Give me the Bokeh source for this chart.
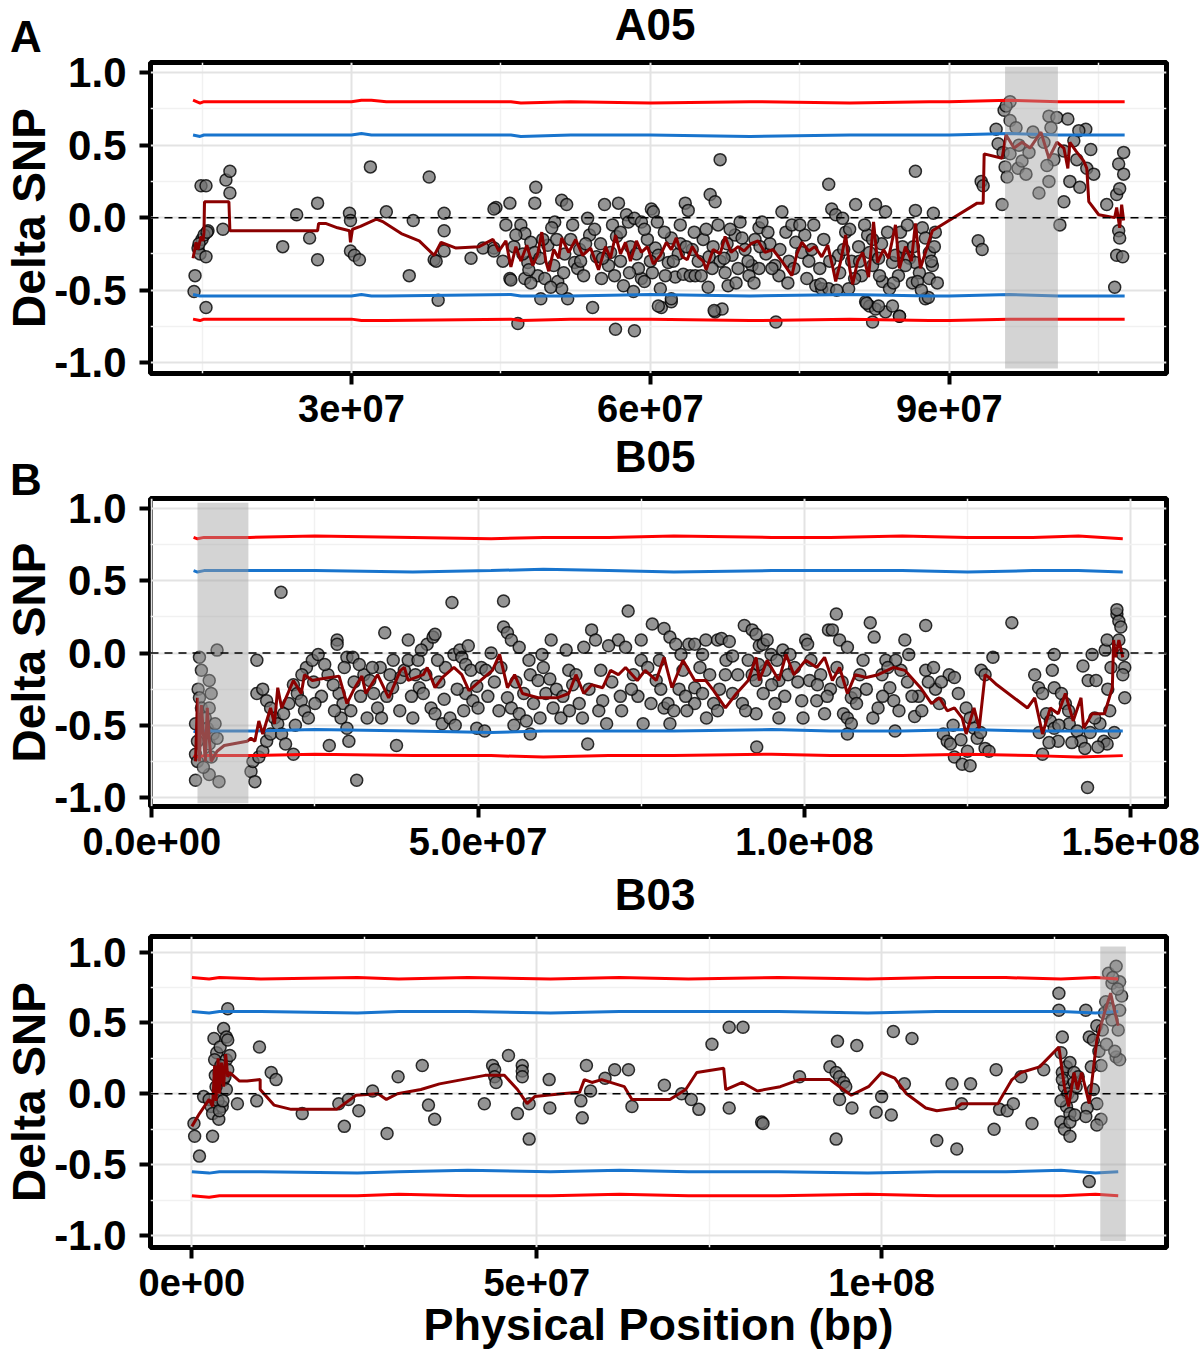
from bokeh.plotting import figure
from bokeh.models import FixedTicker, Span, Div
from bokeh.layouts import column
from bokeh.embed import file_html
from bokeh.resources import INLINE

FONT = "Liberation Sans"

# ---------------- data (positions in Mb) ----------------
Y_TICKS = [-1.0, -0.5, 0.0, 0.5, 1.0]
Y_TICK_LABELS = ["-1.0", "-0.5", "0.0", "0.5", "1.0"]
Y_MINOR = [-0.75, -0.25, 0.25, 0.75]

# ----- A05 -----
A_title = "A05"
A_letter = "A"
A_xticks = [30, 60, 90]
A_xtick_labels = ["3e+07", "6e+07", "9e+07"]
A_xminor = [15, 45, 75, 105]
A_roi = [95.6, 100.9]
A_points = [
    (14.3, -0.40), (14.2, -0.51), (15.4, -0.62), (14.9, 0.22), (15.4, 0.22), (14.6, -0.21), (14.8, -0.25),
    (15.4, -0.27), (15.6, -0.09), (15.0, -0.15), (15.2, -0.12), (14.7, -0.18), (15.5, -0.10),
    (17.4, 0.26), (17.8, 0.32), (17.8, 0.17), (17.1, -0.08), (23.1, -0.20), (24.5, 0.02), (25.8, -0.14),
    (26.6, 0.10), (26.6, -0.29), (29.8, 0.03), (29.9, -0.02), (29.9, -0.23), (30.3, -0.26), (30.8, -0.29),
    (31.9, 0.35), (33.5, 0.04), (35.8, -0.40), (36.2, -0.02), (37.8, 0.28), (38.3, -0.29), (38.5, -0.30),
    (39.3, 0.03), (39.3, -0.09), (39.3, -0.23), (38.7, -0.57), (42.0, -0.28), (43.2, -0.21), (44.3, -0.21),
    (44.5, 0.07), (44.3, 0.06), (45.9, 0.10), (44.3, -0.23), (48.5, 0.21), (48.4, 0.10), (45.9, -0.42),
    (46.0, -0.43), (46.7, -0.73), (47.0, -0.05), (47.4, -0.11), (48.0, -0.17), (48.4, -0.24), (48.7, -0.40),
    (49.0, -0.56), (49.4, -0.42), (47.4, -0.42), (47.7, -0.31), (50.4, -0.03), (50.1, -0.07), (51.1, 0.12),
    (51.6, 0.09), (50.7, -0.44), (51.1, -0.49), (51.7, -0.56), (52.4, -0.31), (52.7, -0.35), (53.7, -0.005),
    (53.9, -0.12), (54.2, -0.62), (55.4, 0.09), (56.8, 0.10), (55.1, -0.42), (55.8, -0.33), (56.4, -0.40),
    (57.3, -0.47), (57.6, 0.02), (57.8, -0.03), (58.4, -0.005), (59.1, -0.03), (58.3, -0.51), (58.4, -0.78),
    (59.1, -0.42), (59.4, -0.44), (60.1, 0.06), (60.3, 0.04), (61.0, -0.49), (61.1, -0.62), (62.1, -0.58),
    (62.5, -0.41), (60.5, -0.21), (61.8, -0.31), (62.1, -0.14), (63.5, 0.10), (63.8, 0.05), (63.3, -0.39),
    (64.0, -0.40), (64.5, -0.40), (65.8, -0.48), (66.0, 0.16), (66.5, 0.11), (67.0, 0.40), (66.5, -0.65),
    (67.2, -0.63), (67.5, -0.38), (67.8, -0.47), (68.2, -0.26), (68.5, -0.12), (69.2, -0.14), (70.2, -0.33),
    (70.9, -0.35), (70.9, -0.07), (71.2, -0.03), (72.5, -0.33), (73.2, 0.04), (73.6, -0.10), (74.2, -0.05),
    (74.6, -0.17), (75.2, -0.24), (76.6, -0.47), (77.2, -0.49), (77.9, -0.49), (77.9, 0.23), (78.2, 0.06),
    (78.6, 0.02), (79.3, -0.005), (79.6, -0.10), (79.9, -0.49), (80.6, 0.09), (82.6, 0.09), (83.6, 0.04),
    (82.0, -0.24), (82.3, -0.33), (81.6, -0.58), (82.0, -0.61), (82.6, -0.63), (83.6, -0.65), (84.3, -0.61),
    (85.0, -0.68), (82.3, -0.72), (83.3, -0.44), (84.0, -0.49), (84.3, -0.31), (84.6, -0.26), (86.0, -0.28),
    (86.6, -0.31), (86.6, 0.05), (86.6, 0.32), (87.3, -0.07), (87.6, -0.14), (88.0, -0.24), (87.6, -0.56),
    (88.3, -0.33), (88.0, -0.42),
    (45.2, -0.30), (46.3, -0.20), (47.8, -0.36), (48.9, -0.28), (49.7, -0.19), (50.3, -0.33), (51.4, -0.25),
    (52.0, -0.15), (52.9, -0.22), (53.3, -0.40), (54.6, -0.27), (55.0, -0.18), (56.0, -0.24), (56.6, -0.13),
    (57.0, -0.30), (58.0, -0.20), (58.8, -0.35), (59.7, -0.15), (60.2, -0.38), (60.8, -0.26), (61.4, -0.10),
    (62.8, -0.25), (63.0, -0.18), (64.2, -0.22), (64.8, -0.30), (65.3, -0.15), (65.9, -0.27), (66.3, -0.20),
    (67.0, -0.30), (67.7, -0.18), (68.8, -0.35), (69.5, -0.22), (69.9, -0.40), (70.5, -0.15), (71.6, -0.25),
    (72.0, -0.18), (72.9, -0.40), (73.9, -0.30), (75.5, -0.12), (75.9, -0.30), (76.2, -0.22), (77.0, -0.35),
    (78.9, -0.26), (79.0, -0.38), (80.2, -0.30), (80.9, -0.20), (81.2, -0.40), (81.8, -0.12), (82.9, -0.28),
    (83.2, -0.18), (84.9, -0.40), (85.3, -0.20), (85.6, -0.33), (86.3, -0.45), (87.0, -0.38), (88.5, -0.20),
    (88.6, -0.10), (88.4, 0.03), (56.5, -0.77), (60.8, -0.61), (62.1, -0.56), (66.4, -0.64), (72.6, -0.72),
    (77.1, -0.46), (81.7, -0.59), (82.9, -0.61), (85.0, -0.68), (87.9, -0.55), (86.8, -0.44),
    (45.5, -0.05), (46.5, -0.12), (47.2, -0.25), (48.0, -0.45), (49.2, -0.15), (50.0, -0.48), (50.6, -0.15),
    (51.3, -0.38), (52.2, -0.05), (53.0, -0.30), (53.5, -0.18), (54.4, -0.08), (55.2, -0.28), (56.2, -0.05),
    (57.0, -0.10), (57.9, -0.38), (58.6, -0.25), (59.4, -0.08), (60.0, -0.30), (60.7, -0.03), (61.5, -0.40),
    (62.3, -0.30), (63.0, -0.05), (63.6, -0.20), (64.4, -0.10), (65.1, -0.40), (65.6, -0.08), (66.2, -0.35),
    (66.8, -0.05), (67.4, -0.28), (68.0, -0.08), (68.6, -0.45), (69.0, -0.03), (69.8, -0.30), (70.4, -0.45),
    (71.0, -0.20), (71.8, -0.10), (72.2, -0.35), (73.0, -0.22), (73.8, -0.45), (74.4, -0.35), (75.0, -0.05),
    (75.7, -0.42), (76.4, -0.05), (77.4, -0.15), (78.0, -0.30), (78.7, -0.50), (79.4, -0.22), (80.0, -0.08),
    (80.5, -0.42), (81.0, -0.30), (81.5, -0.05), (82.3, -0.15), (83.0, -0.40), (83.8, -0.10), (84.4, -0.45),
    (85.1, -0.10), (85.8, -0.05), (86.4, -0.20), (87.2, -0.50), (88.2, -0.30), (88.8, -0.45),
    (93.2, 0.25), (93.4, 0.22), (92.9, -0.16), (93.3, -0.22), (95.3, 0.09), (94.9, 0.51), (94.7, 0.61),
    (95.5, 0.74), (96.1, 0.80), (95.7, 0.77), (96.1, 0.67), (96.7, 0.62), (95.4, 0.45), (95.6, 0.35),
    (95.8, 0.28), (96.1, 0.44), (96.9, 0.34), (97.3, 0.39), (97.7, 0.30), (98.4, 0.59), (99.0, 0.17),
    (100.0, 0.70), (100.8, 0.69), (100.0, 0.25), (100.2, 0.62), (101.1, -0.05), (101.5, 0.11), (101.9, 0.68),
    (101.5, 0.46), (102.1, 0.25), (102.5, 0.53), (103.1, 0.21), (103.7, 0.61), (104.2, 0.47), (103.8, 0.34),
    (105.8, 0.09), (106.8, 0.16), (107.0, 0.37), (107.5, 0.45), (107.5, 0.30), (107.1, 0.20), (107.0, -0.09),
    (107.1, -0.14), (106.8, -0.26), (107.4, -0.27), (106.6, -0.48), (97.0, 0.50), (98.0, 0.45), (99.5, 0.52),
    (100.5, 0.40), (102.8, 0.40), (104.5, 0.30), (103.0, 0.60), (99.8, 0.36),
]
A_smooth = [
    (14.1, -0.28), (14.4, -0.17), (14.6, -0.22), (14.9, -0.13), (15.1, -0.16), (15.2, -0.10), (15.25, 0.11),
    (17.7, 0.11), (17.8, -0.09), (26.6, -0.09), (26.7, -0.04), (27.4, -0.04), (28.6, -0.07), (29.8, -0.09),
    (29.9, -0.17), (30.1, -0.08), (30.9, -0.06), (32.5, -0.01), (33.2, -0.03), (35.0, -0.11), (36.8, -0.16),
    (38.3, -0.26), (39.0, -0.17), (40.5, -0.21), (42.8, -0.20), (44.2, -0.15), (44.8, -0.23), (45.5, -0.16),
    (46.0, -0.34), (46.5, -0.20), (47.0, -0.30), (47.6, -0.19), (48.2, -0.33), (48.7, -0.25), (49.1, -0.10),
    (49.5, -0.30), (49.8, -0.37), (50.3, -0.22), (50.8, -0.28), (51.1, -0.14), (51.8, -0.24), (52.5, -0.15),
    (53.2, -0.26), (54.0, -0.21), (54.8, -0.36), (55.5, -0.20), (56.0, -0.28), (56.5, -0.12), (57.0, -0.25),
    (57.5, -0.17), (58.0, -0.30), (58.6, -0.16), (59.1, -0.24), (59.7, -0.20), (60.3, -0.32), (61.0, -0.26),
    (61.6, -0.17), (62.1, -0.22), (62.6, -0.14), (63.2, -0.27), (63.7, -0.29), (64.2, -0.20), (64.8, -0.27),
    (65.3, -0.30), (65.6, -0.36), (66.3, -0.22), (67.0, -0.25), (67.5, -0.13), (68.1, -0.24), (68.8, -0.20),
    (69.4, -0.23), (70.1, -0.18), (70.8, -0.16), (71.5, -0.24), (72.3, -0.22), (73.3, -0.31), (74.2, -0.40),
    (74.7, -0.25), (75.2, -0.17), (75.9, -0.23), (76.5, -0.20), (77.2, -0.27), (77.8, -0.19), (78.3, -0.34),
    (78.6, -0.44), (79.1, -0.30), (79.6, -0.12), (80.0, -0.35), (80.3, -0.46), (80.8, -0.30), (81.3, -0.24),
    (81.9, -0.41), (82.4, -0.03), (82.8, -0.31), (83.4, -0.22), (83.9, -0.28), (84.6, -0.05), (85.0, -0.35),
    (85.6, -0.20), (86.2, -0.30), (86.6, -0.04), (87.1, -0.35), (87.7, -0.22), (88.3, -0.09), (92.8, 0.10),
    (93.4, 0.10), (93.5, 0.44), (95.3, 0.41), (95.7, 0.57), (96.5, 0.48), (97.3, 0.52), (98.1, 0.48),
    (99.2, 0.59), (100.0, 0.41), (100.8, 0.52), (101.5, 0.48), (101.9, 0.34), (102.1, 0.52), (102.7, 0.46),
    (103.5, 0.39), (103.8, 0.34), (104.0, 0.11), (105.0, 0.02), (106.6, 0.00), (106.8, 0.07), (107.1, -0.07),
    (107.3, 0.09), (107.5, -0.02),
]
A_thr_x = [14.1, 14.8, 15.2, 30.0, 31.0, 32.0, 33.5, 46.0, 47.0, 52.0, 60.0, 70.0, 80.0, 88.0, 90.0, 96.0, 101.0, 107.6]
A_red_up = [0.81, 0.79, 0.80, 0.80, 0.81, 0.81, 0.80, 0.80, 0.79, 0.80, 0.79, 0.80, 0.79, 0.80, 0.80, 0.81, 0.80, 0.80]
A_blue_up = [0.57, 0.56, 0.57, 0.57, 0.58, 0.57, 0.57, 0.57, 0.56, 0.57, 0.57, 0.56, 0.57, 0.57, 0.57, 0.58, 0.57, 0.57]
A_blue_lo = [-0.53, -0.54, -0.54, -0.54, -0.53, -0.54, -0.54, -0.53, -0.54, -0.54, -0.53, -0.54, -0.53, -0.54, -0.54, -0.53, -0.54, -0.54]
A_red_lo = [-0.70, -0.71, -0.70, -0.70, -0.71, -0.71, -0.71, -0.70, -0.71, -0.70, -0.70, -0.71, -0.70, -0.71, -0.71, -0.70, -0.70, -0.70]

# ----- B05 -----
B_title = "B05"
B_letter = "B"
B_xticks = [0, 50, 100, 150]
B_xtick_labels = ["0.0e+00", "5.0e+07", "1.0e+08", "1.5e+08"]
B_xminor = [25, 75, 125]
B_roi = [7.0, 14.8]
B_points = [
    (7.3, -0.03), (7.6, -0.12), (7.1, -0.25), (7.3, -0.31), (7.6, -0.38), (6.7, -0.49), (7.0, -0.61), (6.7, -0.70),
    (7.0, -0.75), (6.7, -0.88), (8.8, -0.19), (9.1, -0.28), (8.8, -0.38), (9.4, -0.56), (8.8, -0.63), (9.1, -0.72),
    (8.8, -0.84), (10.0, 0.02), (10.3, -0.89), (8.2, -0.45), (8.5, -0.52), (7.9, -0.79), (9.7, -0.49), (10.0, -0.59),
    (15.2, -0.82), (15.8, -0.89), (16.1, -0.05), (15.5, -0.75), (16.4, -0.72), (17.0, -0.68), (17.6, -0.61),
    (18.2, -0.56), (16.1, -0.28), (17.0, -0.25), (17.6, -0.33), (18.2, -0.38), (18.8, -0.45), (19.3, -0.49),
    (19.9, -0.56), (20.5, -0.63), (21.7, -0.70), (19.8, 0.42), (21.7, -0.22), (22.3, -0.28), (22.9, -0.33),
    (23.4, -0.40), (24.0, -0.45), (23.7, -0.10), (24.6, -0.05), (25.5, -0.01), (27.2, -0.64), (28.4, 0.09),
    (28.4, 0.06), (29.0, -0.45), (29.9, -0.52), (30.2, -0.61), (28.7, -0.28), (29.3, -0.35), (29.9, -0.03),
    (30.8, -0.03), (31.4, -0.88), (32.5, -0.15), (33.4, -0.19), (34.0, -0.28), (34.6, -0.38), (35.7, 0.14),
    (37.5, -0.64), (36.9, -0.24), (38.1, -0.17), (38.7, -0.12), (39.3, 0.09), (39.3, -0.05), (40.4, -0.15),
    (41.0, -0.24), (41.6, -0.28), (42.2, 0.06), (43.1, 0.11), (43.4, 0.13), (42.8, -0.38), (43.4, -0.42),
    (44.5, -0.49), (45.7, -0.45), (46.0, 0.35), (46.3, -0.01), (47.2, 0.02), (47.5, -0.03), (48.1, -0.08),
    (48.9, -0.12), (48.1, -0.28), (49.2, -0.33), (49.8, -0.52), (51.0, -0.54), (49.8, -0.23), (53.9, 0.36),
    (53.9, 0.18), (54.5, 0.14), (55.1, 0.09), (56.3, 0.04), (54.5, -0.31), (55.1, -0.38), (56.3, -0.42),
    (57.4, -0.47), (58.0, -0.56), (58.0, -0.15), (59.2, -0.19), (60.4, -0.28), (61.5, -0.38), (62.7, -0.45),
    (59.8, -0.01), (61.2, 0.09), (63.9, -0.12), (65.0, -0.15), (66.2, 0.04), (66.8, -0.63), (67.4, 0.16),
    (68.0, 0.09),
    (69.1, -0.33), (69.7, -0.49), (71.5, 0.09), (72.6, 0.04), (73.0, 0.29), (75.0, 0.09), (75.0, -0.05),
    (75.3, -0.49), (76.7, 0.20), (77.3, -0.19), (78.5, 0.17), (79.4, 0.11), (79.4, -0.49), (78.5, -0.38),
    (79.1, -0.35), (80.3, 0.06), (81.1, -0.01), (81.4, -0.12), (82.3, 0.06), (83.2, 0.06), (84.4, -0.01),
    (84.9, 0.09), (83.2, -0.24), (83.2, -0.35), (84.4, -0.28), (86.1, -0.35), (86.7, -0.40), (86.7, 0.09),
    (87.3, 0.10), (88.5, 0.08), (87.9, -0.15), (89.0, -0.28), (90.8, 0.19), (92.0, 0.16), (92.6, 0.13),
    (93.1, 0.05), (91.4, -0.05), (92.0, -0.15), (92.6, -0.19), (93.7, -0.28), (95.5, -0.35), (92.6, -0.42),
    (92.7, -0.65), (93.7, 0.06), (94.3, 0.09), (94.9, -0.01), (96.1, -0.45), (96.1, -0.19), (96.7, 0.02),
    (97.8, -0.01), (100.2, 0.09), (100.5, 0.06), (99.6, -0.33), (100.8, -0.19), (101.9, -0.33), (103.1, -0.42),
    (103.7, 0.16), (104.3, 0.16), (104.9, 0.27), (105.4, 0.09), (106.6, 0.04), (106.0, -0.42), (106.6, -0.45),
    (107.2, -0.49), (106.6, -0.56), (107.2, -0.31), (107.8, -0.28), (110.1, 0.21), (110.7, 0.11), (111.3, -0.38),
    (111.9, -0.15), (112.5, -0.05), (115.4, 0.09), (116.0, -0.01), (114.8, -0.12), (113.1, -0.24), (113.7, -0.33),
    (116.9, -0.44), (118.6, 0.19), (118.6, -0.12), (113.9, -0.54), (120.1, -0.25), (120.7, -0.35), (121.3, -0.56),
    (121.9, -0.61), (122.4, -0.63), (123.0, -0.72), (124.2, -0.77), (125.4, -0.78), (122.2, -0.15), (123.0, -0.17),
    (123.6, -0.28), (124.8, -0.38), (125.4, -0.45), (126.0, -0.52), (126.5, -0.59), (127.7, -0.66), (128.3, -0.68),
    (127.1, -0.12), (127.7, -0.15), (128.9, -0.03), (131.8, 0.21), (135.3, -0.15), (135.9, -0.24), (136.5, -0.28),
    (137.1, -0.42), (137.7, -0.47), (138.3, -0.52), (138.9, -0.61), (136.5, -0.70), (138.3, -0.01), (138.0, -0.12),
    (138.3, -0.24), (139.4, -0.28), (140.0, -0.35), (140.6, -0.49), (141.8, -0.54), (142.4, -0.61), (143.0, -0.66),
    (142.7, -0.09), (143.5, -0.19), (143.4, -0.93), (144.1, -0.01), (144.7, -0.19), (145.3, -0.49), (145.9, -0.61),
    (146.4, -0.63), (146.1, 0.02), (146.4, 0.09), (147.9, 0.27), (148.2, 0.22), (148.5, 0.18), (148.2, 0.09),
    (148.8, -0.01), (149.1, -0.10), (148.8, -0.15), (149.1, -0.31), (147.9, 0.30),
    (21.0, -0.35), (24.8, -0.20), (26.0, -0.30), (27.0, -0.15), (28.0, -0.40), (31.0, -0.20), (32.0, -0.30),
    (33.0, -0.45), (35.0, -0.10), (36.0, -0.30), (37.0, -0.05), (39.8, -0.30), (40.8, -0.05), (42.0, -0.15),
    (44.0, -0.20), (45.0, -0.10), (46.8, -0.25), (47.8, -0.40), (50.5, -0.10), (51.5, -0.30), (52.5, -0.20),
    (53.2, -0.40), (55.8, -0.20), (57.0, -0.28), (58.5, -0.35), (60.0, -0.10), (62.0, -0.25), (63.0, -0.30),
    (64.5, -0.22), (65.5, -0.35), (67.0, -0.25), (68.5, -0.40), (70.5, -0.20), (71.8, -0.30), (73.8, -0.15),
    (74.5, -0.30), (76.0, -0.10), (77.8, -0.05), (80.8, -0.25), (82.0, -0.40), (85.5, -0.15), (88.0, -0.05),
    (89.8, -0.15), (90.5, -0.35), (94.0, -0.12), (95.0, -0.22), (97.0, -0.30), (98.5, -0.10), (99.0, -0.20),
    (101.0, -0.05), (102.5, -0.15), (104.0, -0.25), (105.0, -0.10), (108.5, -0.15), (109.5, -0.25),
    (112.0, -0.30), (114.0, -0.05), (115.8, -0.20), (117.5, -0.30), (119.0, -0.20),
    (20.2, -0.42), (22.0, -0.50), (23.0, -0.15), (25.0, -0.35), (26.5, -0.08), (27.8, -0.22), (29.5, -0.10),
    (30.5, -0.40), (31.8, -0.08), (33.8, -0.10), (35.2, -0.45), (36.5, -0.15), (38.0, -0.40), (40.0, -0.45),
    (41.3, 0.02), (43.8, -0.05), (44.8, -0.32), (46.5, -0.50), (48.5, 0.05), (50.0, -0.38), (51.2, -0.12),
    (52.0, 0.00), (53.5, -0.10), (55.5, -0.50), (57.8, -0.05), (59.5, -0.45), (61.0, -0.18), (63.5, 0.02),
    (64.0, -0.40), (66.0, -0.45), (68.8, -0.12), (70.0, 0.05), (72.0, -0.40), (73.5, -0.25), (76.5, -0.35),
    (78.0, -0.25), (80.0, -0.40), (81.8, -0.30), (84.0, -0.10), (85.0, -0.45), (87.0, -0.25), (89.0, -0.02),
    (91.0, -0.40), (93.0, -0.08), (95.8, -0.05), (97.5, -0.15), (99.8, -0.45), (102.0, -0.22), (103.5, -0.30),
    (105.8, -0.20), (108.0, -0.35), (109.0, -0.05), (110.5, -0.45), (112.8, -0.10), (114.5, -0.40),
    (116.5, -0.30), (118.0, -0.40), (119.8, -0.10), (121.0, -0.20), (122.8, -0.50), (124.0, -0.60),
    (125.0, -0.68), (127.0, -0.55), (136.0, -0.55), (137.5, -0.62), (139.0, -0.50), (140.5, -0.40),
    (141.0, -0.62), (143.8, -0.55), (144.5, -0.45), (145.0, -0.65), (146.8, -0.40), (147.5, -0.55),
    (147.0, -0.10), (146.5, -0.25),
]
B_smooth = [
    (6.7, -0.75), (7.0, -0.31), (7.3, -0.75), (7.6, -0.36), (8.2, -0.75), (8.5, -0.38), (8.8, -0.59),
    (9.1, -0.75), (10.0, -0.68), (11.1, -0.64), (14.6, -0.61), (15.2, -0.59), (15.8, -0.61), (16.4, -0.47),
    (17.0, -0.56), (18.2, -0.38), (18.8, -0.49), (19.3, -0.24), (19.9, -0.38), (21.7, -0.19), (22.9, -0.28),
    (23.4, -0.15), (24.6, -0.19), (25.8, -0.18), (28.7, -0.16), (29.9, -0.35), (31.1, -0.24), (32.2, -0.16),
    (32.8, -0.28), (34.6, -0.15), (36.3, -0.31), (38.1, -0.12), (38.7, -0.10), (39.3, -0.19), (41.6, -0.15),
    (42.2, -0.10), (43.4, -0.24), (44.5, -0.17), (46.3, -0.10), (47.5, -0.15), (48.6, -0.26), (50.4, -0.19),
    (52.2, -0.12), (53.3, -0.01), (54.5, -0.24), (55.6, -0.15), (56.8, -0.28), (59.2, -0.31), (62.1, -0.31),
    (63.9, -0.28), (65.0, -0.15), (66.2, -0.28), (67.4, -0.22), (69.1, -0.24), (70.3, -0.12), (71.5, -0.15),
    (72.6, -0.10), (74.4, -0.19), (75.6, -0.12), (77.3, -0.19), (78.5, -0.03), (79.7, -0.24), (81.4, -0.05),
    (83.2, -0.19), (84.9, -0.19), (86.1, -0.26), (87.9, -0.38), (89.6, -0.28), (91.4, -0.19), (92.6, -0.03),
    (93.1, -0.19), (94.3, -0.05), (96.1, -0.19), (97.2, -0.01), (98.4, -0.15), (100.2, -0.05), (101.9, -0.10),
    (103.1, -0.03), (104.3, -0.19), (105.4, -0.10), (106.6, -0.28), (107.8, -0.15), (109.5, -0.17),
    (111.3, -0.15), (113.7, -0.10), (115.4, -0.12), (117.8, -0.24), (119.5, -0.35), (120.7, -0.31),
    (121.9, -0.40), (123.0, -0.38), (124.2, -0.45), (124.8, -0.56), (126.0, -0.38), (126.8, -0.52),
    (127.7, -0.15), (128.3, -0.17), (129.5, -0.22), (134.2, -0.38), (135.3, -0.31), (136.5, -0.56),
    (137.7, -0.38), (138.9, -0.42), (140.0, -0.28), (141.2, -0.47), (142.4, -0.31), (142.8, -0.52),
    (144.1, -0.42), (146.0, -0.42), (147.2, -0.24), (147.4, 0.09), (147.7, -0.03), (148.2, 0.09), (148.8, -0.03),
]
B_thr_x = [6.4, 7.0, 8.0, 15.0, 25.0, 40.0, 52.0, 60.0, 70.0, 80.0, 95.0, 104.0, 115.0, 125.0, 135.0, 142.0, 148.8]
B_red_up = [0.80, 0.79, 0.80, 0.80, 0.81, 0.80, 0.79, 0.80, 0.80, 0.81, 0.80, 0.80, 0.81, 0.80, 0.80, 0.81, 0.79]
B_blue_up = [0.57, 0.56, 0.57, 0.57, 0.57, 0.56, 0.57, 0.58, 0.57, 0.56, 0.57, 0.57, 0.57, 0.56, 0.57, 0.57, 0.56]
B_blue_lo = [-0.54, -0.55, -0.54, -0.54, -0.53, -0.54, -0.55, -0.54, -0.54, -0.54, -0.53, -0.54, -0.54, -0.53, -0.54, -0.54, -0.54]
B_red_lo = [-0.71, -0.72, -0.71, -0.71, -0.70, -0.71, -0.71, -0.72, -0.71, -0.71, -0.70, -0.71, -0.71, -0.70, -0.71, -0.72, -0.71]

# ----- B03 -----
C_title = "B03"
C_letter = ""
C_xticks = [0, 50, 100]
C_xtick_labels = ["0e+00", "5e+07", "1e+08"]
C_xminor = [25, 75, 125]
C_roi = [131.7, 135.4]
C_points = [
    (0.3, -0.21), (0.4, -0.30), (1.1, -0.44), (1.7, -0.02), (2.5, -0.04), (2.8, -0.09), (3.0, -0.14), (3.0, -0.30),
    (3.2, 0.39), (3.6, 0.29), (3.9, 0.15), (3.3, 0.24), (4.1, 0.33), (4.6, 0.46), (5.0, 0.40), (5.2, 0.38),
    (5.2, 0.60), (3.9, -0.18), (4.4, -0.09), (4.6, 0.10), (5.0, 0.03), (5.0, 0.24), (5.2, 0.17), (5.5, 0.27),
    (3.5, 0.05), (3.8, -0.05), (4.2, 0.20), (4.8, 0.12), (4.0, -0.12), (3.4, 0.13), (4.5, -0.05),
    (6.6, -0.07), (9.8, 0.33), (9.4, -0.05), (11.5, 0.15), (12.2, 0.10), (16.0, -0.14), (21.3, -0.07),
    (22.1, -0.23), (22.7, -0.04), (24.2, -0.12), (26.2, 0.02), (28.3, -0.28), (29.9, 0.12), (33.4, 0.20),
    (34.3, -0.08), (35.2, -0.18), (42.4, -0.07), (43.6, 0.20), (43.9, 0.17), (43.9, 0.12), (44.1, 0.08),
    (45.9, 0.27), (47.2, -0.14), (47.9, 0.20), (47.9, 0.16), (47.9, 0.12), (48.9, -0.07), (48.9, -0.32),
    (51.8, 0.10), (51.9, -0.10), (56.4, -0.05), (56.6, -0.17), (57.2, 0.20), (57.8, 0.02),
    (59.9, 0.11), (61.3, 0.17), (63.3, 0.17), (63.8, -0.09), (68.5, 0.06), (71.0, 0.00), (72.4, -0.04),
    (73.5, -0.11), (75.4, 0.35), (77.9, 0.47), (79.9, 0.47), (77.9, -0.10), (82.6, -0.20), (82.8, -0.21),
    (88.1, 0.12), (92.5, 0.19), (93.4, 0.15), (93.9, 0.12), (94.5, 0.08), (94.8, 0.05), (93.6, 0.37),
    (96.4, 0.34), (93.4, -0.32), (93.9, -0.04), (95.7, -0.10), (99.2, -0.13), (101.4, -0.15), (100.0, -0.02),
    (101.7, 0.44), (104.4, 0.39), (103.3, 0.07), (108.0, -0.33), (110.2, 0.07), (110.9, -0.39), (111.6, -0.07),
    (112.9, 0.07), (116.6, 0.17), (116.3, -0.25), (117.1, -0.11), (118.2, -0.12), (119.1, -0.07), (120.2, 0.12),
    (121.8, -0.21), (123.5, 0.17), (125.7, 0.71), (125.7, 0.59), (126.2, 0.40), (126.0, 0.29), (126.2, 0.15),
    (126.8, 0.19), (127.3, 0.22), (127.9, 0.15), (126.8, -0.09), (127.3, -0.14), (126.0, -0.20), (126.5, -0.25),
    (127.3, -0.30), (129.6, 0.59), (130.1, 0.40), (130.7, 0.38), (131.2, 0.48), (130.4, 0.19), (130.7, 0.03),
    (131.2, -0.07), (131.8, -0.18), (131.2, -0.22), (129.8, -0.10), (129.6, -0.16), (130.1, -0.62),
    (132.9, 0.85), (134.0, 0.90), (133.4, 0.78), (134.5, 0.79), (134.8, 0.69), (134.5, 0.59), (134.3, 0.45),
    (134.0, 0.26), (134.5, 0.24), (132.3, 0.57), (133.4, 0.52), (126.5, 0.05), (127.0, 0.00), (127.6, -0.02),
    (126.2, 0.10), (127.9, 0.08), (128.2, 0.05), (128.5, 0.12), (126.0, -0.05), (127.3, -0.20), (128.0, -0.15),
    (131.5, 0.30), (132.0, 0.45), (131.8, 0.20), (132.5, 0.65), (133.0, 0.60), (132.6, 0.35), (133.8, 0.30),
    (133.5, 0.82), (134.2, 0.74),
]
C_smooth = [
    (0.0, -0.23), (1.1, -0.14), (2.5, -0.04), (3.0, -0.09), (3.3, 0.20), (3.5, -0.05), (3.8, 0.25), (4.0, 0.00),
    (4.3, 0.22), (4.6, 0.05), (4.9, 0.28), (5.2, 0.12), (5.5, 0.15), (6.9, 0.09), (8.0, 0.09), (9.9, 0.10),
    (9.9, 0.03), (11.9, -0.08), (14.4, -0.11), (21.0, -0.11), (23.8, -0.01), (27.0, 0.00), (28.2, -0.04),
    (29.8, 0.00), (33.2, 0.03), (35.9, 0.07), (39.2, 0.10), (42.5, 0.13), (45.3, 0.13), (47.2, 0.03),
    (48.6, -0.07), (49.7, -0.02), (53.6, 0.00), (56.2, 0.01), (56.9, 0.10), (58.0, 0.08), (59.4, 0.10),
    (62.7, 0.05), (63.8, -0.04), (69.3, -0.04), (71.6, 0.03), (73.2, 0.15), (77.1, 0.18), (77.4, 0.03),
    (79.8, 0.08), (82.0, 0.02), (85.3, 0.05), (88.1, 0.10), (92.5, 0.10), (93.9, 0.05), (95.6, -0.01),
    (98.1, 0.05), (100.0, 0.15), (101.9, 0.11), (103.6, 0.00), (106.4, -0.10), (108.0, -0.12), (110.8, -0.10),
    (111.6, -0.07), (116.9, -0.07), (117.2, -0.04), (118.9, 0.10), (120.2, 0.15), (122.9, 0.19), (125.7, 0.33),
    (126.5, 0.05), (127.1, -0.09), (127.9, 0.15), (128.4, 0.03), (129.0, 0.15), (130.1, -0.07), (131.2, 0.38),
    (132.3, 0.57), (133.2, 0.71), (133.7, 0.60), (134.3, 0.48),
]
C_thr_x = [0.0, 2.5, 4.0, 10.0, 24.0, 30.0, 40.0, 52.0, 62.0, 72.0, 85.0, 98.0, 108.0, 118.0, 126.0, 131.0, 134.3]
C_red_up = [0.82, 0.81, 0.82, 0.81, 0.82, 0.81, 0.82, 0.81, 0.82, 0.81, 0.82, 0.81, 0.82, 0.82, 0.81, 0.82, 0.81]
C_blue_up = [0.58, 0.57, 0.58, 0.58, 0.57, 0.58, 0.58, 0.57, 0.58, 0.58, 0.58, 0.57, 0.58, 0.58, 0.58, 0.57, 0.58]
C_blue_lo = [-0.55, -0.56, -0.55, -0.55, -0.56, -0.55, -0.54, -0.55, -0.54, -0.55, -0.55, -0.56, -0.55, -0.55, -0.54, -0.56, -0.55]
C_red_lo = [-0.72, -0.73, -0.72, -0.72, -0.72, -0.71, -0.72, -0.72, -0.71, -0.72, -0.72, -0.71, -0.72, -0.72, -0.72, -0.71, -0.72]

MB = 1e6
PAGE_W = 1200
FRAME_W = 1016
LEFT = 150
PAD_TOP = 15


def make_header(title, letter, height, title_top, letter_top, shift):
    """HTML strip above a panel with the panel letter and the centred chromosome title."""
    base = ("position:absolute;margin:0;padding:0;white-space:nowrap;line-height:1;"
            "font-family:'%s';font-weight:bold;font-size:44px;color:black;" % FONT)
    html = '<div style="position:relative;width:%dpx;height:%dpx;margin:0;padding:0;">' % (PAGE_W, height)
    html += '<div style="%sleft:%dpx;width:240px;text-align:center;top:%dpx;">%s</div>' % (
        base, LEFT + 505 - 120, title_top, title)
    if letter:
        html += '<div style="%sleft:10px;top:%dpx;">%s</div>' % (base, letter_top, letter)
    html += '</div>'
    return Div(text=html, width=PAGE_W, height=height, margin=(shift, 0, 0, 0))


def make_panel(pts, smooth, thr_x, red_up, blue_up, blue_lo, red_lo, roi,
               x_range, y_range, xticks, xlabels, xminor, fh, bottom, shift, xlabel=None):
    x0, x1 = x_range
    p = figure(frame_width=FRAME_W, frame_height=fh, min_border_left=LEFT,
               min_border_right=PAGE_W - LEFT - FRAME_W,
               min_border_top=PAD_TOP, min_border_bottom=bottom,
               x_range=(x0 * MB, x1 * MB), y_range=y_range,
               output_backend="svg", toolbar_location=None,
               background_fill_color="white", border_fill_color="white", border_fill_alpha=0,
               margin=(shift, 0, 0, 0))
    p.outline_line_color = "black"
    p.outline_line_width = 5

    # axes
    xt = [v * MB for v in xticks]
    p.xaxis.ticker = FixedTicker(ticks=xt, minor_ticks=[v * MB for v in xminor])
    p.xaxis.major_label_overrides = {t: s for t, s in zip(xt, xlabels)}
    p.yaxis.ticker = FixedTicker(ticks=Y_TICKS, minor_ticks=Y_MINOR)
    p.yaxis.major_label_overrides = {t: s for t, s in zip(Y_TICKS, Y_TICK_LABELS)}
    for ax in (p.xaxis, p.yaxis):
        ax.axis_line_color = None
        ax.major_tick_line_color = "black"
        ax.major_tick_line_width = 4
        ax.major_tick_in = 0
        ax.major_tick_out = 11
        ax.minor_tick_line_color = None
        ax.major_label_text_font = FONT
        ax.major_label_text_font_style = "bold"
        ax.major_label_text_color = "black"
    p.xaxis.major_label_standoff = 10
    p.yaxis.major_label_standoff = 13
    p.xaxis.major_label_text_font_size = "38px"
    p.yaxis.major_label_text_font_size = "42px"
    p.yaxis.axis_label = "Delta SNP"
    p.yaxis.axis_label_text_font = FONT
    p.yaxis.axis_label_text_font_size = "46px"
    p.yaxis.axis_label_text_font_style = "bold"
    p.yaxis.axis_label_text_color = "black"
    p.yaxis.axis_label_standoff = -4
    if xlabel:
        p.xaxis.axis_label = xlabel
        p.xaxis.axis_label_text_font = FONT
        p.xaxis.axis_label_text_font_size = "45px"
        p.xaxis.axis_label_text_font_style = "bold"
        p.xaxis.axis_label_text_color = "black"
        p.xaxis.axis_label_standoff = 0

    # grid
    for g in (p.xgrid, p.ygrid):
        g.grid_line_color = "#E3E3E3"
        g.grid_line_width = 2
        g.minor_grid_line_color = "#F1F1F1"
        g.minor_grid_line_width = 1.5

    # points
    p.scatter([a * MB for a, b in pts], [b for a, b in pts], size=12, fill_color="#707070", fill_alpha=0.75,
              line_color="black", line_alpha=0.8, line_width=1.5)

    # thresholds
    tx = [v * MB for v in thr_x]
    p.line(tx, red_up, line_color="#FF0000", line_width=3)
    p.line(tx, red_lo, line_color="#FF0000", line_width=3)
    p.line(tx, blue_up, line_color="#1874CD", line_width=3)
    p.line(tx, blue_lo, line_color="#1874CD", line_width=3)

    # tricube-smoothed delta SNP
    p.line([a * MB for a, b in smooth], [b for a, b in smooth], line_color="#8B0000", line_width=3)

    # region of interest
    p.quad(left=[roi[0] * MB], right=[roi[1] * MB], bottom=[-1.04], top=[1.04],
           fill_color="#A0A0A0", fill_alpha=0.45, line_color=None)

    p.add_layout(Span(location=0, dimension="width", line_color="black",
                      line_dash="8 6", line_width=1.5))
    return p


# page rows: header A 0-62, panel A 47-440 (frame 62-373), header B 426-506,
# panel B 483-870 (frame 498-806), header C 856-936, panel C 921-1359 (frame 936-1247)
ha = make_header(A_title, A_letter, 62, 3, 15, 0)
pa = make_panel(A_points, A_smooth, A_thr_x, A_red_up, A_blue_up, A_blue_lo, A_red_lo, A_roi,
                (9.83, 111.8), (-1.075, 1.07), A_xticks, A_xtick_labels, A_xminor, 311, 67, -15)
hb = make_header(B_title, B_letter, 80, 9, 32, -14)
pb = make_panel(B_points, B_smooth, B_thr_x, B_red_up, B_blue_up, B_blue_lo, B_red_lo, B_roi,
                (-0.2, 155.5), (-1.062, 1.069), B_xticks, B_xtick_labels, B_xminor, 308, 64, -23)
hc = make_header(C_title, C_letter, 80, 17, 0, -14)
pc = make_panel(C_points, C_smooth, C_thr_x, C_red_up, C_blue_up, C_blue_lo, C_red_lo, C_roi,
                (-6.0, 141.3), (-1.085, 1.11), C_xticks, C_xtick_labels, C_xminor, 311, 112, -15,
                xlabel="Physical Position (bp)")

layout = column(ha, pa, hb, pb, hc, pc, spacing=0)
open("out.html", "w").write(file_html(layout, INLINE))
